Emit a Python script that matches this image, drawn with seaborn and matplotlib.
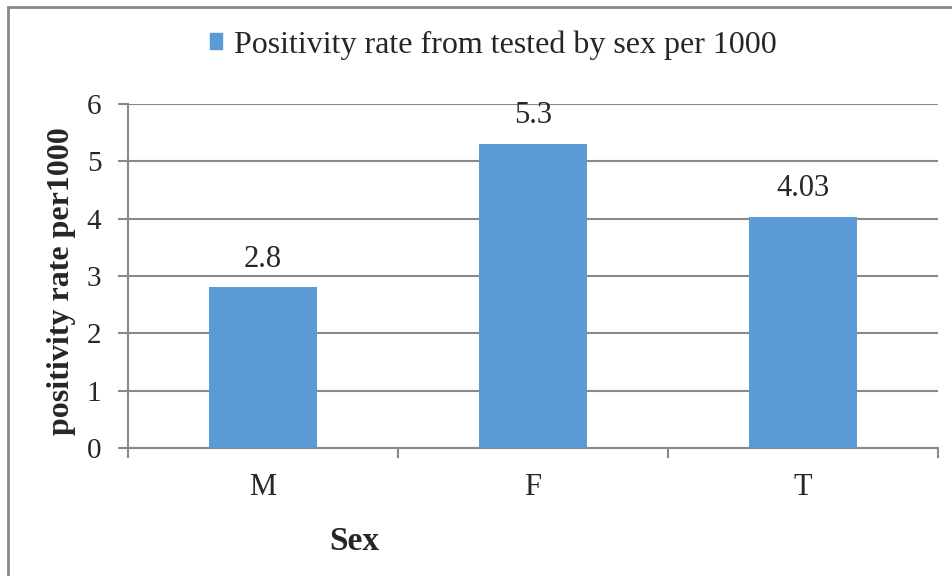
import matplotlib
matplotlib.use("Agg")
import matplotlib.pyplot as plt
import matplotlib.patches as mpatches
import seaborn as sns
import pandas as pd

categories = ["M", "F", "T"]
values = [2.8, 5.3, 4.03]
value_labels = ["2.8", "5.3", "4.03"]
series_name = "Positivity rate from tested by sex per 1000"
y_ticks = [0, 1, 2, 3, 4, 5, 6]

sns.set_style("white")
plt.rcParams['font.family'] = ['Liberation Serif', 'DejaVu Serif']

W, H = 952, 576
fig = plt.figure(figsize=(W / 100, H / 100), dpi=100)
ax = fig.add_axes([128 / W, 1 - 448 / H, (938 - 128) / W, (448 - 104) / H])

df = pd.DataFrame({"Sex": categories, "rate": values})
bar_color = "#5B9BD5"
sns.barplot(data=df, x="Sex", y="rate", color=bar_color, width=0.4,
            saturation=1, ax=ax, zorder=3, linewidth=0)

grey = "#898989"
ax.set_ylim(0, 6)
ax.set_xlim(-0.5, 2.5)
ax.set_yticks(y_ticks)
ax.set_yticklabels([str(t) for t in y_ticks], fontsize=21)
ax.yaxis.grid(True, color=grey, linewidth=1.5, zorder=0)
ax.set_axisbelow(True)
for s in ["top", "right"]:
    ax.spines[s].set_visible(False)
for s in ["left", "bottom"]:
    ax.spines[s].set_color(grey)
    ax.spines[s].set_linewidth(1.5)
ax.tick_params(axis="y", which="major", direction="out", length=7.2, width=1.5,
               color=grey, left=True, pad=12)
ax.set_xticks([0, 1, 2])
ax.set_xticklabels(categories, fontsize=22)
ax.tick_params(axis="x", which="major", length=0, pad=18)
ax.set_xticks([-0.5, 0.5, 1.5, 2.5], minor=True)
ax.tick_params(axis="x", which="minor", direction="out", length=7, width=1.5,
               color=grey, bottom=True)

ax.set_ylabel("")
ax.set_xlabel("")
fig.text(62 / W, 1 - 281 / H, "positivity rate per1000", fontsize=23,
         fontweight="bold", rotation=90, ha="center", va="center")
fig.text(354 / W, 1 - 542 / H, "Sex", fontsize=24, fontweight="bold",
         ha="center", va="center")

for i, (v, lab) in enumerate(zip(values, value_labels)):
    ax.annotate(lab, (i, v), xytext=(0, 10), textcoords="offset points",
                ha="center", va="bottom", fontsize=22)

handle = mpatches.Patch(color=bar_color, label=series_name)
fig.legend(handles=[handle], loc="center", bbox_to_anchor=(493 / W, 1 - 45 / H),
           frameon=False, fontsize=23, handlelength=0.4, handleheight=0.4,
           handletextpad=0.35, borderpad=0)

border = mpatches.Rectangle((8 / W, -0.05), 1.1, 1 - 7 / H + 0.05,
                            transform=fig.transFigure, fill=False,
                            edgecolor=grey, linewidth=2, clip_on=False)
fig.patches.append(border)

fig.savefig("out.png", dpi=100)
